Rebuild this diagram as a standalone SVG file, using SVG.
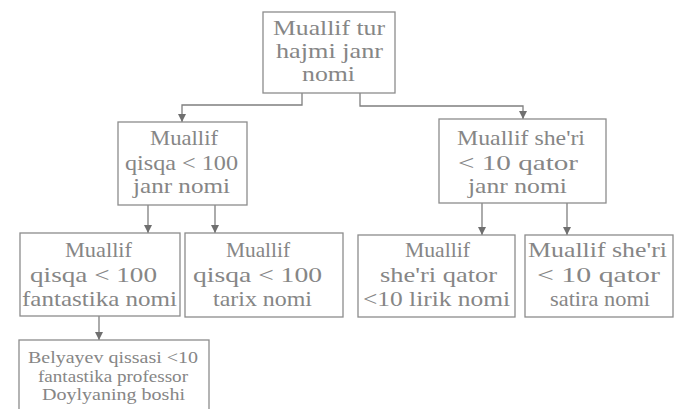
<svg xmlns="http://www.w3.org/2000/svg" width="675" height="409" viewBox="0 0 675 409">
<style>
.box{fill:#ffffff;stroke:#8c8c8c;stroke-width:1.3}
.c{fill:none;stroke:#7f7f7f;stroke-width:1.3}
</style>
<defs>
<marker id="ah" viewBox="0 0 8 8" refX="8" refY="4" markerWidth="8" markerHeight="8" markerUnits="userSpaceOnUse" orient="auto">
<path d="M0,0 L8,4 L0,8 z" fill="#6f6f6f"/>
</marker>
</defs>
<rect width="675" height="409" fill="#ffffff"/>
<g id="connectors">
<path class="c" d="M302,93 V105 H182 V122" marker-end="url(#ah)"/>
<path class="c" d="M360,93 V106 H523 V119" marker-end="url(#ah)"/>
<path class="c" d="M148,205 V233" marker-end="url(#ah)"/>
<path class="c" d="M215,205 V233" marker-end="url(#ah)"/>
<path class="c" d="M482,203 V235" marker-end="url(#ah)"/>
<path class="c" d="M567,203 V235" marker-end="url(#ah)"/>
<path class="c" d="M99,316 V340" marker-end="url(#ah)"/>
</g>
<g font-family="Liberation Serif, DejaVu Serif, serif" font-size="21" fill="#868686">
<g id="root">
<rect class="box" x="263" y="12" width="132" height="81"/>
<text x="273" y="35" textLength="112" lengthAdjust="spacingAndGlyphs">Muallif tur</text>
<text x="276" y="58" textLength="107" lengthAdjust="spacingAndGlyphs">hajmi janr</text>
<text x="302" y="81" textLength="53" lengthAdjust="spacingAndGlyphs">nomi</text>
</g>
<g id="qisqa">
<rect class="box" x="118" y="122" width="129" height="83"/>
<text x="150" y="145" textLength="68" lengthAdjust="spacingAndGlyphs">Muallif</text>
<text x="125" y="170" textLength="113" lengthAdjust="spacingAndGlyphs">qisqa &lt; 100</text>
<text x="133" y="193" textLength="97" lengthAdjust="spacingAndGlyphs">janr nomi</text>
</g>
<g id="sheri">
<rect class="box" x="439" y="119" width="167" height="84"/>
<text x="457" y="145" textLength="128" lengthAdjust="spacingAndGlyphs">Muallif she'ri</text>
<text x="458" y="170" textLength="120" lengthAdjust="spacingAndGlyphs">&lt; 10 qator</text>
<text x="468" y="193" textLength="99" lengthAdjust="spacingAndGlyphs">janr nomi</text>
</g>
<g id="fantastika">
<rect class="box" x="20" y="233" width="160" height="83"/>
<text x="65" y="257" textLength="67" lengthAdjust="spacingAndGlyphs">Muallif</text>
<text x="30" y="282" textLength="127" lengthAdjust="spacingAndGlyphs">qisqa &lt; 100</text>
<text x="22" y="306" textLength="155" lengthAdjust="spacingAndGlyphs">fantastika nomi</text>
</g>
<g id="tarix">
<rect class="box" x="185" y="233" width="158" height="84"/>
<text x="226" y="257" textLength="64" lengthAdjust="spacingAndGlyphs">Muallif</text>
<text x="193" y="282" textLength="129" lengthAdjust="spacingAndGlyphs">qisqa &lt; 100</text>
<text x="213" y="306" textLength="99" lengthAdjust="spacingAndGlyphs">tarix nomi</text>
</g>
<g id="lirik">
<rect class="box" x="358" y="235" width="157" height="82"/>
<text x="405" y="257" textLength="65" lengthAdjust="spacingAndGlyphs">Muallif</text>
<text x="380" y="282" textLength="117" lengthAdjust="spacingAndGlyphs">she'ri qator</text>
<text x="363" y="306" textLength="147" lengthAdjust="spacingAndGlyphs">&lt;10 lirik nomi</text>
</g>
<g id="satira">
<rect class="box" x="525" y="235" width="148" height="82"/>
<text x="528" y="257" textLength="139" lengthAdjust="spacingAndGlyphs">Muallif she'ri</text>
<text x="537" y="282" textLength="123" lengthAdjust="spacingAndGlyphs">&lt; 10 qator</text>
<text x="550" y="306" textLength="100" lengthAdjust="spacingAndGlyphs">satira nomi</text>
</g>
<g id="belyayev" font-size="17">
<rect class="box" x="19" y="340" width="190" height="75"/>
<text x="28" y="363" textLength="170" lengthAdjust="spacingAndGlyphs">Belyayev qissasi &lt;10</text>
<text x="38" y="382" textLength="150" lengthAdjust="spacingAndGlyphs">fantastika professor</text>
<text x="42" y="400" textLength="143" lengthAdjust="spacingAndGlyphs">Doylyaning boshi</text>
</g>
</g>
</svg>
